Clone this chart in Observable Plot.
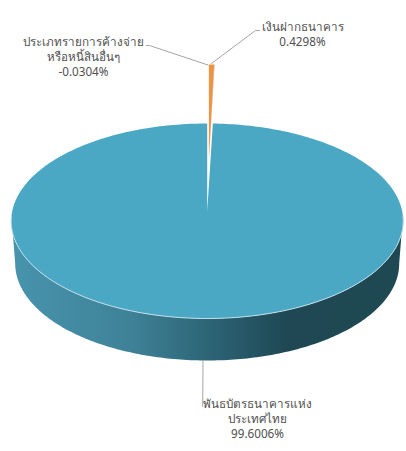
<!DOCTYPE html>
<html><head><meta charset="utf-8">
<script src="https://cdn.jsdelivr.net/npm/d3@7"></script>
<script src="https://cdn.jsdelivr.net/npm/@observablehq/plot@0.6"></script>
<style>html,body{margin:0;padding:0;background:#fff}svg{display:block}</style>
</head><body><div id="chart"></div>
<script>
const categories = ["เงินฝากธนาคาร", "ประเภทรายการค้างจ่าย\nหรือหนี้สินอื่นๆ", "พันธบัตรธนาคารแห่ง\nประเทศไทย"];
const shares = [0.4298, -0.0304, 99.6006];
const shareLabels = ["0.4298%", "-0.0304%", "99.6006%"];
const sliceColors = ["#ee9442", "#a5a5a5", "#4aa8c5"];

// Pie geometry in pie units (rim radius = 1), 3-D look of the source
const X0 = 206.7, RX = 196, Y0 = 220.5, RY = 97.5;
const ux = px => (px - X0) / RX, uy = py => (Y0 - py) / RY;
const arcs = d3.pie().sort(null).value(Math.abs)(shares);
const rim = (t, dx = 0, dy = 0, sx = 1, sy = 1) => ({x: dx + sx * Math.sin(t), y: dy + sy * Math.cos(t)});
const sweep = (a, b, n, ...o) => d3.range(n + 1).map(i => rim(a + (b - a) * i / n, ...o));
const apex = {x: 0, y: uy(211)};
const wedge = (arc, dx, dy, tip) => [tip, ...sweep(arc.startAngle, arc.endAngle, arc.index === 2 ? 360 : 6, dx, dy), tip];

const mainSlice = wedge(arcs[2], 0, 0, apex);
const liftX = ux(208.4), liftY = uy(64) - 1;
const depositSlice = wedge(arcs[0], liftX, liftY, {x: liftX, y: uy(160)});
const otherSlice = wedge(arcs[1], liftX, liftY, {x: liftX, y: uy(160)});

const frontTop = sweep(Math.PI * 1.5 + 0.05, Math.PI * 0.5 - 0.05, 180);
const wall = [
  ...sweep(Math.PI * 1.5 + 0.05, Math.PI * 0.5 - 0.05, 180),
  ...sweep(Math.PI * 0.5, Math.PI * 1.5, 180, 0, uy(263), 192 / RX, 97 / RY)
];

const leaders = [
  [[207.5, 64.5], [149, 45], [146, 45]],
  [[211, 63], [255, 30], [259, 30]],
  [[202.5, 360], [202.2, 406]]
].map(l => l.map(([x, y]) => ({x: ux(x), y: uy(y)})));

const labels = [
  {x: ux(302), y: uy(33.3), i: 0},
  {x: ux(83), y: uy(55.8), i: 1},
  {x: ux(257), y: uy(417.8), i: 2}
].map(d => ({...d, text: categories[d.i] + "\n" + shareLabels[d.i]}));

const gradient = () => {
  const defs = d3.create("svg:defs");
  const g = defs.append("linearGradient").attr("id", "wallShade");
  [[0, "#4794ad"], [0.3, "#3f8298"], [0.5, "#2d6577"], [0.7, "#1f4854"], [1, "#1e4852"]]
    .forEach(([o, c]) => g.append("stop").attr("offset", o).attr("stop-color", c));
  return defs.node();
};

const chart = Plot.plot({
  width: 406, height: 451,
  margin: 0,
  style: {background: "#fff", overflow: "visible"},
  x: {domain: [-1, 1], range: [X0 - RX, X0 + RX], axis: null},
  y: {domain: [-1, 1], range: [Y0 + RY, Y0 - RY], axis: null},
  marks: [
    gradient,
    Plot.line(wall, {x: "x", y: "y", fill: "url(#wallShade)", stroke: "none"}),
    Plot.line(depositSlice, {x: "x", y: "y", fill: sliceColors[0], stroke: "none"}),
    Plot.line(otherSlice, {x: "x", y: "y", fill: sliceColors[1], stroke: "none"}),
    Plot.line(mainSlice, {x: "x", y: "y", fill: sliceColors[2], stroke: "none"}),
    Plot.line(frontTop, {x: "x", y: "y", stroke: "#c4e0e9", strokeWidth: 1}),
    ...leaders.map(l => Plot.line(l, {x: "x", y: "y", stroke: "#a6a6a6", strokeWidth: 1})),
    Plot.text(labels, {x: "x", y: "y", text: "text", fill: "#505050", fontSize: 11.7, lineHeight: 1.28,
      fontFamily: "'Noto Sans', 'Open Sans', sans-serif", textAnchor: "middle", lineAnchor: "middle"})
  ]
});
document.getElementById("chart").append(chart);
</script></body></html>
